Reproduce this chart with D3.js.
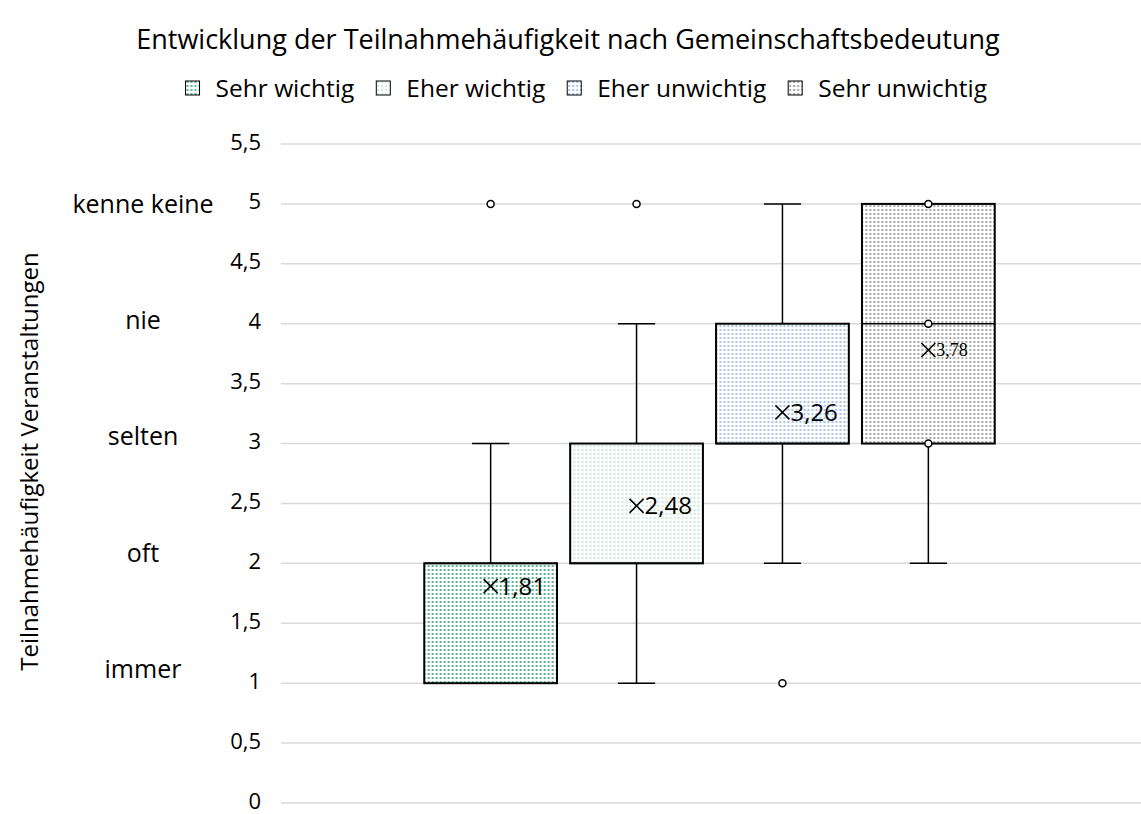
<!DOCTYPE html>
<html>
<head>
<meta charset="utf-8">
<script src="https://cdn.jsdelivr.net/npm/d3@7"></script>
<style>
  body { margin: 0; background: #fff; }
  text { font-family: "Open Sans", sans-serif; fill: #000; }
</style>
</head>
<body>
<div id="chart"></div>
<script>
// Data
const series = ["Sehr wichtig", "Eher wichtig", "Eher unwichtig", "Sehr unwichtig"];
const whiskerLow = [1, 1, 2, 2];
const q1 = [1, 2, 3, 3];
const median = [2, 2, 3, 4];
const q3 = [2, 3, 4, 5];
const whiskerHigh = [3, 4, 5, 5];
const means = [1.81, 2.48, 3.26, 3.78];
const points = [[5], [5], [1], [3, 4, 5]];
const yTicks = [0, 0.5, 1, 1.5, 2, 2.5, 3, 3.5, 4, 4.5, 5, 5.5];
const levelLabels = ["immer", "oft", "selten", "nie", "kenne keine"];
const levelValues = [1, 2, 3, 4, 5];

const colors = ["#5bb38f", "#cfe9e1", "#a9c3ec", "#a6a6a6"];

const width = 1141, height = 814;
const margin = { left: 281, right: 3, top: 144, bottom: 11 };

const svg = d3.select("#chart").append("svg")
    .attr("width", width)
    .attr("height", height);

// Dotted fills
const defs = svg.append("defs");
colors.forEach((c, i) => {
    const p = defs.append("pattern")
        .attr("id", "pat" + i)
        .attr("patternUnits", "userSpaceOnUse")
        .attr("width", 4).attr("height", 4);
    p.append("rect").attr("width", 4).attr("height", 4).attr("fill", "#fff");
    p.append("rect").attr("x", 1).attr("y", 1).attr("width", 2).attr("height", 2).attr("fill", c);
});

const y = d3.scaleLinear()
    .domain([0, 5.5])
    .range([height - margin.bottom, margin.top]);

const x0 = d3.scaleBand()
    .domain(["all"])
    .range([margin.left, width - margin.right]);

const groupW = x0.bandwidth() * 0.681;
const gx = x0("all") + (x0.bandwidth() - groupW) / 2;
const x1 = d3.scaleBand()
    .domain(series)
    .range([gx, gx + groupW])
    .paddingInner(0.09)
    .paddingOuter(0.045);

// Gridlines
svg.append("g")
    .selectAll("line")
    .data(yTicks)
    .join("line")
    .attr("x1", margin.left)
    .attr("x2", width)
    .attr("y1", d => y(d))
    .attr("y2", d => y(d))
    .attr("stroke", "#d9d9d9")
    .attr("stroke-width", 1.5);

// Y axis tick labels
const fmt = d => String(d).replace(".", ",");
svg.append("g")
    .selectAll("text")
    .data(yTicks)
    .join("text")
    .attr("x", 261)
    .attr("y", d => y(d))
    .attr("dy", "0.25em")
    .attr("text-anchor", "end")
    .attr("font-size", 22)
    .text(fmt);

// Level labels (separate text column)
const levelY = d3.scaleLinear().domain([1, 5]).range([y(1) - 14, y(5)]);
svg.append("g")
    .selectAll("text")
    .data(levelValues)
    .join("text")
    .attr("x", 143)
    .attr("y", d => levelY(d))
    .attr("dy", "0.35em")
    .attr("text-anchor", "middle")
    .attr("font-size", 25)
    .text((d, i) => levelLabels[i]);

// Axis title
svg.append("text")
    .attr("transform", `translate(30,${(y(1) + y(5)) / 2 + 18}) rotate(-90)`)
    .attr("text-anchor", "middle")
    .attr("dy", "0.35em")
    .attr("font-size", 24)
    .text("Teilnahmehäufigkeit Veranstaltungen");

// Title
svg.append("text")
    .attr("x", 568)
    .attr("y", 49)
    .attr("text-anchor", "middle")
    .attr("font-size", 27)
    .text("Entwicklung der Teilnahmehäufigkeit nach Gemeinschaftsbedeutung");

// Boxes
const bw = x1.bandwidth();
const capW = bw * 0.28;
const boxes = svg.append("g")
    .selectAll("g")
    .data(series)
    .join("g")
    .attr("transform", d => `translate(${x1(d) + bw / 2},0)`);

boxes.each(function (s, i) {
    const g = d3.select(this);
    // whiskers
    if (whiskerHigh[i] > q3[i]) {
        g.append("line").attr("x1", 0).attr("x2", 0)
            .attr("y1", y(q3[i])).attr("y2", y(whiskerHigh[i]))
            .attr("stroke", "#000").attr("stroke-width", 1.5);
        g.append("line").attr("x1", -capW / 2).attr("x2", capW / 2)
            .attr("y1", y(whiskerHigh[i])).attr("y2", y(whiskerHigh[i]))
            .attr("stroke", "#000").attr("stroke-width", 1.5);
    }
    if (whiskerLow[i] < q1[i]) {
        g.append("line").attr("x1", 0).attr("x2", 0)
            .attr("y1", y(q1[i])).attr("y2", y(whiskerLow[i]))
            .attr("stroke", "#000").attr("stroke-width", 1.5);
        g.append("line").attr("x1", -capW / 2).attr("x2", capW / 2)
            .attr("y1", y(whiskerLow[i])).attr("y2", y(whiskerLow[i]))
            .attr("stroke", "#000").attr("stroke-width", 1.5);
    }
    // box
    g.append("rect")
        .attr("x", -bw / 2)
        .attr("width", bw)
        .attr("y", y(q3[i]))
        .attr("height", y(q1[i]) - y(q3[i]))
        .attr("fill", `url(#pat${i})`)
        .attr("stroke", "#000")
        .attr("stroke-width", 2);
    // median
    g.append("line").attr("x1", -bw / 2).attr("x2", bw / 2)
        .attr("y1", y(median[i])).attr("y2", y(median[i]))
        .attr("stroke", "#000").attr("stroke-width", 1.5);
    // points
    g.selectAll("circle")
        .data(points[i])
        .join("circle")
        .attr("cx", 0)
        .attr("cy", d => y(d))
        .attr("r", 3.5)
        .attr("fill", "#fff")
        .attr("stroke", "#000")
        .attr("stroke-width", 1.5);
    // mean marker
    const my = y(means[i]);
    g.append("path")
        .attr("d", `M-7,${my - 7}L7,${my + 7}M7,${my - 7}L-7,${my + 7}`)
        .attr("stroke", "#000")
        .attr("stroke-width", 1.5);
    g.append("text")
        .attr("x", 8)
        .attr("y", my)
        .attr("dy", "0.35em")
        .attr("font-size", i === 3 ? 18 : 24)
        .style("font-family", i === 3 ? "'Liberation Serif', serif" : null)
        .text(fmt(means[i]));
});

// Legend
const legend = svg.append("g").attr("transform", "translate(0,88)");
const items = legend.selectAll("g")
    .data(series)
    .join("g");
items.append("rect")
    .attr("x", 0).attr("y", -7)
    .attr("width", 14).attr("height", 14)
    .attr("fill", (d, i) => `url(#pat${i})`)
    .attr("stroke", "#000")
    .attr("stroke-width", 1);
items.append("text")
    .attr("x", 30)
    .attr("dy", "0.35em")
    .attr("font-size", 24.5)
    .text(d => d);
let pos = 0;
const offsets = [];
items.each(function () {
    offsets.push(pos);
    pos += this.getBBox().width + 22;
});
pos -= 22;
const start = 987 - pos;
items.attr("transform", (d, i) => `translate(${start + offsets[i]},0)`);
</script>
</body>
</html>
